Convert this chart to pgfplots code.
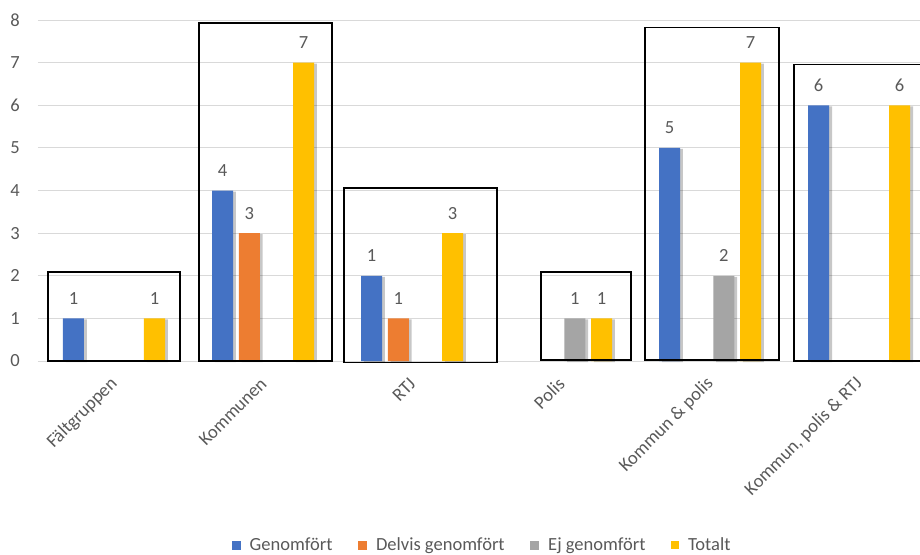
\documentclass[border=0pt]{standalone}
\usepackage{pgfplots}
\pgfplotsset{compat=1.18}
\usepackage{fontspec}
\setmainfont{Carlito}
\usetikzlibrary{shadows}
\definecolor{cblue}{HTML}{4472C4}
\definecolor{corange}{HTML}{ED7D31}
\definecolor{cgray}{HTML}{A5A5A5}
\definecolor{cgold}{HTML}{FFC000}
\definecolor{cgrid}{HTML}{D9D9D9}
\definecolor{ctext}{HTML}{595959}
\newcommand{\chartfont}{\fontsize{13.9}{16}\selectfont}
\tikzset{barshadow/.style={drop shadow={shadow xshift=2.2pt, shadow yshift=-0.8pt, opacity=0.22, fill=black}}}

\begin{document}
\begin{tikzpicture}
\begin{axis}[
    scale only axis,
    width=661.5pt, height=255.75pt,
    xmin=-0.51, xmax=5.409,
    ymin=0, ymax=8,
    ytick={0,1,...,8},
    xtick={0,1,...,5},
    xticklabels={Fältgruppen, Kommunen, RTJ, Polis, Kommun \& polis, {Kommun, polis \& RTJ}},
    ymajorgrids,
    grid style={draw=cgrid, line width=0.75pt},
    axis line style={draw=none},
    major tick length=0pt,
    tick label style={font=\chartfont, text=ctext},
    /pgf/number format/assume math mode=true,
    yticklabel style={inner sep=0pt, xshift=-13.5pt},
    xticklabel style={inner sep=0pt, xshift=0.5pt, yshift=-15pt, rotate=45, anchor=east},
    ybar, bar width=0.141,
    nodes near coords,
    point meta=explicit symbolic,
    nodes near coords style={anchor=center, yshift=15pt, font=\chartfont, text=ctext},
    clip=false,
    legend style={at={(0.504,-0.54)}, anchor=center, draw=none, fill=none,
        legend columns=4, font=\chartfont, text=ctext,
        /tikz/every odd column/.append style={column sep=5pt},
        /tikz/every even column/.append style={column sep=17.25pt}},
]
% Genomfört
\addplot[fill=cblue, draw=none, bar shift=-0.2718, barshadow, forget plot] coordinates {
    (0,1) [1] (1,4) [4] (2,2) [1] (4,5) [5] (5,6) [6]
};
% Delvis genomfört
\addplot[fill=corange, draw=none, bar shift=-0.0923, barshadow, forget plot] coordinates {
    (1,3) [3] (2,1) [1]
};
% Ej genomfört
\addplot[fill=cgray, draw=none, bar shift=0.0923, barshadow, forget plot] coordinates {
    (3,1) [1] (4,2) [2]
};
% Totalt
\addplot[fill=cgold, draw=none, bar shift=0.2718, barshadow, forget plot] coordinates {
    (0,1) [1] (1,7) [7] (2,3) [3] (3,1) [1] (4,7) [7] (5,6) [6]
};

\addlegendimage{legend image code/.code={\fill[cblue] (0pt,-3pt) rectangle (6pt,3pt);}}
\addlegendentry{Genomfört}
\addlegendimage{legend image code/.code={\fill[corange] (0pt,-3pt) rectangle (6pt,3pt);}}
\addlegendentry{Delvis genomfört}
\addlegendimage{legend image code/.code={\fill[cgray] (0pt,-3pt) rectangle (6pt,3pt);}}
\addlegendentry{Ej genomfört}
\addlegendimage{legend image code/.code={\fill[cgold] (0pt,-2.6pt) rectangle (5.2pt,2.6pt);}}
\addlegendentry{Totalt}

% frames around the groups
\draw[line width=1pt] (axis cs:-0.443,0) rectangle (axis cs:0.443,2.09);
\draw[line width=1pt] (axis cs:0.57,0) rectangle (axis cs:1.463,7.93);
\draw[line width=1pt] (axis cs:1.544,-0.04) rectangle (axis cs:2.57,4.06);
\draw[line width=1pt] (axis cs:2.866,0.02) rectangle (axis cs:3.47,2.09);
\draw[line width=1pt] (axis cs:3.564,0.02) rectangle (axis cs:4.463,7.82);
\draw[line width=1pt] (axis cs:5.409,6.95) -| (axis cs:4.564,0) -- (axis cs:5.409,0);
\end{axis}
\pgfresetboundingbox
\path[use as bounding box] ([shift={(-28.5pt,-144.75pt)}]current axis.south west)
    rectangle ([shift={(0pt,15pt)}]current axis.north east);
\end{tikzpicture}
\end{document}
